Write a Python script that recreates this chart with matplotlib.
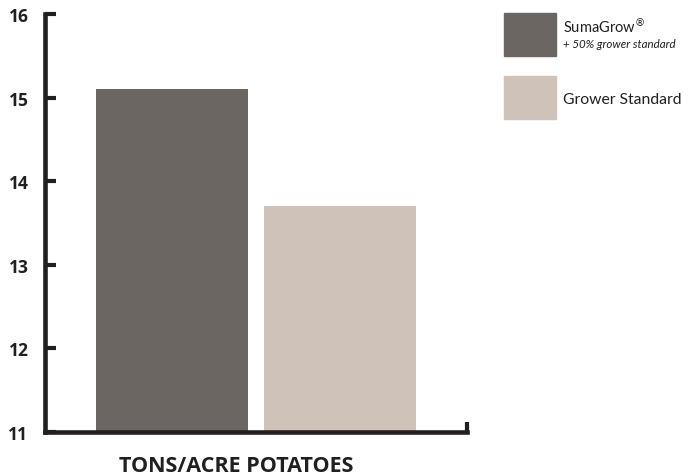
import matplotlib
matplotlib.use("Agg")
import matplotlib.pyplot as plt
from matplotlib.patches import Rectangle

categories = ["SumaGrow® + 50% grower standard", "Grower Standard"]
values = [15.1, 13.7]
colors = ["#6b6661", "#cfc2b9"]
yticks = [11, 12, 13, 14, 15, 16]
axis_color = "#231f20"

fig = plt.figure(figsize=(6.93, 4.77), dpi=100)
ax = fig.add_axes([45/693, 1-433/477, (467-45)/693, (433-15)/477])

x = [0, 1]
ax.bar(x, values, width=0.905, color=colors, bottom=0)
ax.set_ylim(11, 16)
ax.set_xlim(-0.756, 1.756)

for s in ["top", "right"]:
    ax.spines[s].set_visible(False)
for s in ["left", "bottom"]:
    ax.spines[s].set_linewidth(3.3)
    ax.spines[s].set_color(axis_color)
    ax.spines[s].set_capstyle("projecting")

ax.set_xticks([])
ax.set_yticks(yticks)
ax.set_yticklabels([str(t) for t in yticks], fontfamily="Open Sans",
                   fontweight="bold", fontsize=12.5, color=axis_color)
ax.tick_params(axis="y", direction="in", length=8, width=3.0, color=axis_color, pad=12)
# small end tick at right of x axis
ax.plot([1, 1], [0, 0.024], transform=ax.transAxes, color=axis_color,
        lw=3.0, clip_on=False, solid_capstyle="butt")

fig.text(236/693, 1-467/477, "TONS/ACRE POTATOES", ha="center", va="center",
         fontfamily="Open Sans", fontweight="bold", fontsize=15.5, color="#231f20")

# legend
W, H = 693, 477
fig.patches.append(Rectangle((504/W, 1-57/H), 52/W, 43/H, transform=fig.transFigure,
                             color=colors[0], figure=fig))
fig.patches.append(Rectangle((504/W, 1-120/H), 52/W, 43/H, transform=fig.transFigure,
                             color=colors[1], figure=fig))
fig.text(563/W, 1-26/H, r"SumaGrow$^{\circledR}$", ha="left", va="center", fontfamily="Lato",
         fontsize=10.5, color="#231f20")
fig.text(563/W, 1-45/H, "+ 50% grower standard", ha="left", va="center", fontfamily="Lato",
         fontstyle="italic", fontsize=8.3, color="#231f20")
fig.text(563/W, 1-100/H, "Grower Standard", ha="left", va="center", fontfamily="Lato",
         fontsize=11.3, color="#231f20")

fig.savefig("out.png", dpi=100)
